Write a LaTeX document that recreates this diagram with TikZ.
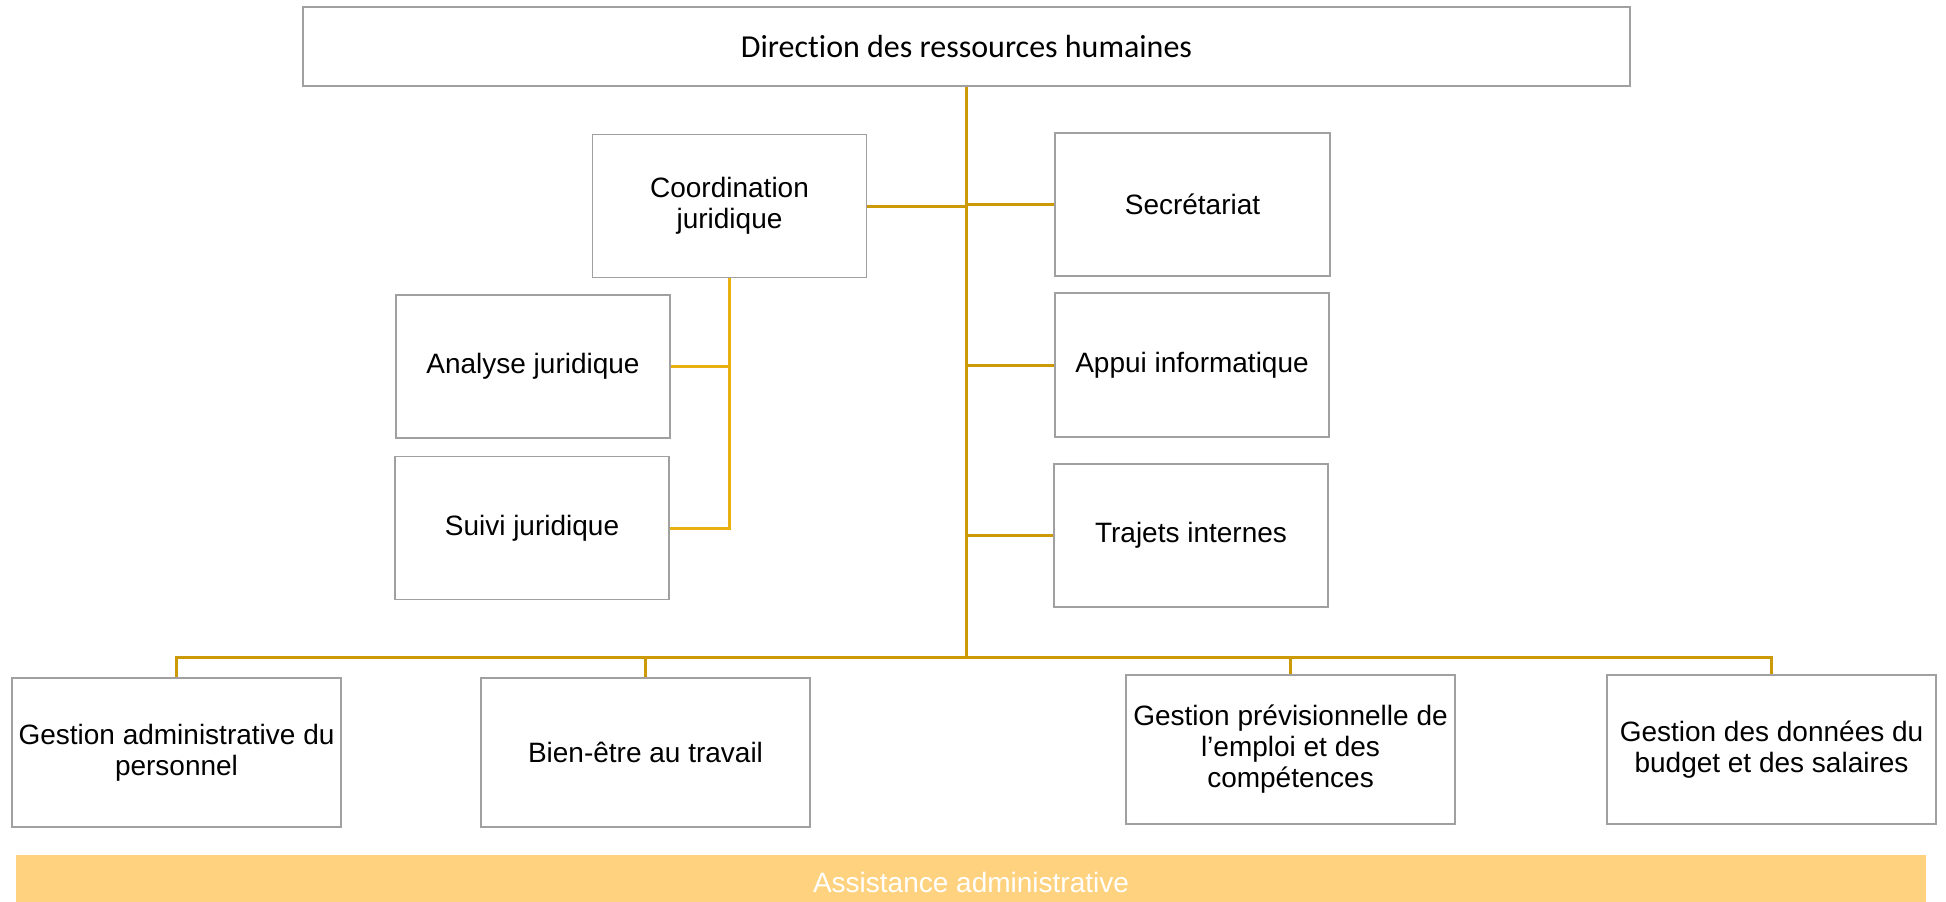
\documentclass[tikz,border=0pt]{standalone}
\usepackage{fontspec}
\setmainfont{Liberation Sans}
\newfontfamily\calib[Ligatures=NoCommon]{Carlito}
\definecolor{linegold}{HTML}{CC9A06}
\definecolor{linesub}{HTML}{E9B10F}
\definecolor{boxgray}{HTML}{A0A0A0}
\definecolor{banner}{HTML}{FED27E}
\begin{document}
\begin{tikzpicture}[x=0.5pt,y=-0.5pt,
  orgbox/.style={draw=boxgray,line width=0.8pt,fill=white,align=center,
    minimum width=137pt,minimum height=71.5pt,inner sep=2pt,
    font=\fontsize{14}{15.5}\selectfont},
  widebox/.style={orgbox,minimum width=164.5pt,minimum height=74.5pt},
  conn/.style={draw=linegold,line width=1.5pt},
  subconn/.style={draw=linesub,line width=1.5pt}]
\useasboundingbox (0,0) rectangle (1946,901);
\fill[white] (0,0) rectangle (1946,901);

\node[draw=boxgray,line width=0.8pt,minimum width=663.5pt,minimum height=39.5pt,
  font=\calib\fontsize{16}{18}\selectfont] (top) at (966.5,46.5) {Direction des ressources humaines};

\node[orgbox] (coord) at (729.5,206) {Coordination\\juridique};
\node[orgbox,minimum width=137.5pt] (sec) at (1192.5,204.5) {Secrétariat};
\node[orgbox] (ana) at (533,366.5) {Analyse juridique};
\node[orgbox] (suivi) at (532,528) {Suivi juridique};
\node[orgbox,minimum height=72pt] (appui) at (1192,365) {Appui informatique};
\node[orgbox] (traj) at (1191,535.5) {Trajets internes};

\node[widebox] (gadm) at (176.5,752.5) {Gestion administrative du\\personnel};
\node[widebox] (bien) at (645.5,752.5) {Bien-être au travail};
\node[widebox] (gpec) at (1290.5,749.5) {Gestion prévisionnelle de\\l’emploi et des\\compétences};
\node[widebox] (gdon) at (1771.5,749.5) {Gestion des données du\\budget et des salaires};

\fill[banner] (16,855) rectangle (1926,905);
\node[text=white,inner sep=0pt,font=\fontsize{14}{16}\selectfont] (assist) at (971,882) {Assistance administrative};

\coordinate (bus) at (966.5,657);

% trunk
\draw[conn] (top.south) -- (bus);
\draw[conn] (coord.east) -- (coord.east -| top.south);
\draw[conn] (sec.west) -- (sec.west -| top.south);
\draw[conn] (appui.west) -- (appui.west -| top.south);
\draw[conn] (traj.west) -- (traj.west -| top.south);

% bottom bus
\draw[conn] (gadm.north) |- (bus) -| (gdon.north);
\draw[conn] (bien.north) -- (bien.north |- bus);
\draw[conn] (gpec.north) -- (gpec.north |- bus);

% juridical subtree
\draw[subconn] (coord.south) -- (coord.south |- suivi.east) -- (suivi.east);
\draw[subconn] (ana.east) -- (ana.east -| coord.south);
\end{tikzpicture}
\end{document}
